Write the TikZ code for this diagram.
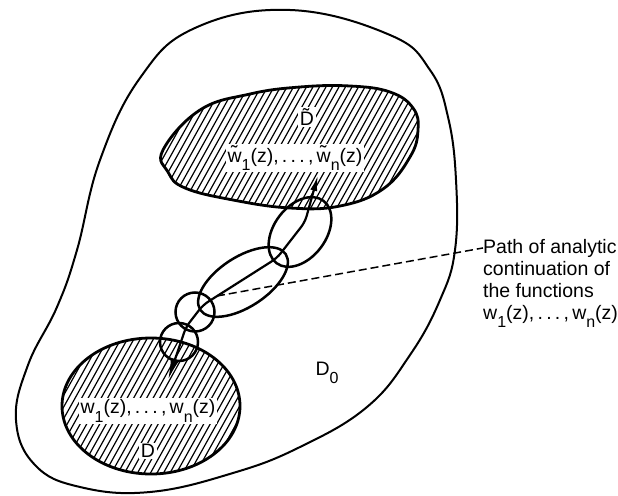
\documentclass[tikz,border=0pt]{standalone}
\usepackage{fontspec}
\setmainfont{Liberation Sans}
\usetikzlibrary{arrows.meta}
\newcommand{\lsub}[1]{\raisebox{-0.8ex}{\fontsize{16}{16}\selectfont #1}}
\tikzset{
  outline/.style={line width=2pt},
  blob/.style={line width=2.8pt},
  hatch/.style={line width=1.2pt},
  ring/.style={line width=2.5pt},
  pathline/.style={line width=2.2pt, line join=round, rounded corners=6pt},
  leader/.style={line width=1.5pt, dash pattern=on 8pt off 4pt},
  lbl/.style={font=\fontsize{19.5}{22}\selectfont, inner sep=1.5pt},
  wlbl/.style={lbl, fill=white},
}
\begin{document}
\begin{tikzpicture}[x=1pt,y=-1pt]
\useasboundingbox (0,0) rectangle (618,495);
% outer region D0
\draw[outline] plot[smooth cycle, tension=0.7] coordinates {
 (290,10) (390,35) (430,70) (448,117) (456,180) (455,250) (440,300)
 (410,355) (367,407) (300,447) (233,473) (150,492) (80,487) (35,465)
 (16,420) (28,365) (57,307) (77,250) (100,160) (140,78) (195,28)};
% upper blob D~
\def\upper{plot[smooth cycle, tension=0.7] coordinates {
 (163,150) (200,110) (250,94) (300,87) (350,86) (390,92) (413,108) (418,130)
 (410,157) (383,189) (340,206) (290,208) (233,200) (185,188) (168,172)}}
\begin{scope}
 \clip \upper;
 \foreach \x in {-300,-293.5,...,700} \draw[hatch] (\x,500) -- ++(300,-540);
\end{scope}
\draw[blob] \upper;
% lower blob D
\begin{scope}
 \clip (151,406) ellipse [x radius=89, y radius=68];
 \foreach \x in {-300,-293.5,...,700} \draw[hatch] (\x,500) -- ++(300,-540);
\end{scope}
\draw[blob] (151,406) ellipse [x radius=89, y radius=68];
% chain of discs
\draw[ring, rotate around={53:(300,232)}] (300,232) ellipse [x radius=39, y radius=26];
\draw[ring, rotate around={33:(243,282)}] (243,282) ellipse [x radius=51, y radius=25];
\draw[ring] (195,312) circle [radius=19.5];
\draw[ring] (179,342) circle [radius=19];
% texts
\node[wlbl] (dt) at (307,117) {\~{D}};
\node[wlbl] (wt) at (295,158) {\~{w}\lsub{1}(z),\,.\,.\,.\,,\,\~{w}\lsub{n}(z)};
\node[wlbl] (wd) at (148,411) {w\lsub{1}(z),\,.\,.\,.\,,\,w\lsub{n}(z)};
\node[wlbl] (d) at (148,451) {D};
\node[lbl] (d0) at (327,373) {D\lsub{0}};
\node[lbl, anchor=base west, inner sep=0pt] (l1) at (483,253) {Path of analytic};
\node[lbl, anchor=base west, inner sep=0pt] (l2) at (483,275) {continuation of};
\node[lbl, anchor=base west, inner sep=0pt] (l3) at (483,297) {the functions};
\node[lbl, anchor=base west, inner sep=0pt] (l4) at (483,319) {w\lsub{1}(z),\,.\,.\,.\,,\,w\lsub{n}(z)};
% path of continuation
\coordinate (p0) at (168,380);
\coordinate (p1) at (186,327);
\coordinate (p2) at (203,305);
\coordinate (p3) at (277,258);
\coordinate (p4) at (305,222);
\coordinate (p5) at (318,175);
\coordinate (ds) at (217,296);
\draw[pathline, {Latex[length=22pt,width=9pt]}-{Latex[length=16pt,width=7pt]}]
  (p0) -- (p1) -- (p2) -- (p3) -- (p4) -- (p5);
\draw[leader] (ds) -- (l1.west);
\end{tikzpicture}
\end{document}
